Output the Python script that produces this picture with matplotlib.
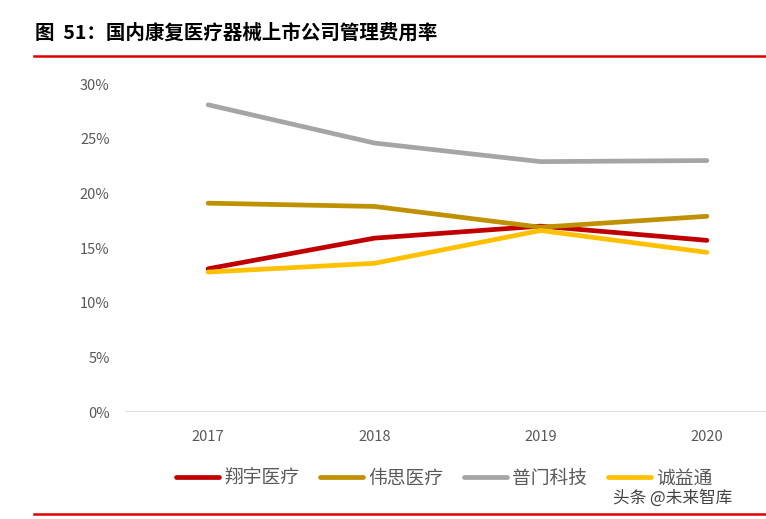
import matplotlib
matplotlib.use('Agg')
from matplotlib import pyplot as plt

plt.rcParams['font.family'] = ['Noto Sans CJK SC', 'DejaVu Sans']

years = ['2017', '2018', '2019', '2020']
xiangyu = [13.1, 15.9, 17.0, 15.7]
weisi = [19.1, 18.8, 16.9, 17.9]
pumen = [28.1, 24.6, 22.9, 23.0]
chengyitong = [12.8, 13.6, 16.6, 14.6]
names = ['翔宇医疗', '伟思医疗', '普门科技', '诚益通']
colors = ['#C00000', '#BF9000', '#A5A5A5', '#FFC000']
yticks = [0, 5, 10, 15, 20, 25, 30]

fig = plt.figure(figsize=(7.66, 5.19), dpi=100)
ax = fig.add_axes([125 / 766, 107 / 519, 665 / 766, 328 / 519])

x = range(len(years))
for vals, name, c in zip([xiangyu, weisi, pumen, chengyitong], names, colors):
    ax.plot(x, vals, color=c, linewidth=3.4, label=name, solid_capstyle='round')

ax.set_xlim(-0.5, 3.5)
ax.set_ylim(0, 30)
ax.set_yticks(yticks)
ax.set_yticklabels([f'{v}%' for v in yticks])
ax.set_xticks(list(x))
ax.set_xticklabels(years)
ax.axhline(0, color='#D9D9D9', linewidth=1.2, zorder=0)
for s in ax.spines.values():
    s.set_visible(False)
ax.tick_params(axis='y', length=0, pad=11, labelsize=10.5, labelcolor='#595959')
ax.tick_params(axis='x', length=0, pad=13, labelsize=10.5, labelcolor='#595959')

fig.legend(loc='center', bbox_to_anchor=(0.58, 1 - 478 / 519), ncol=4,
           frameon=False, fontsize=13.5, handlelength=2.3, handletextpad=0.27,
           columnspacing=1.12, labelcolor='#595959')

# title and red rules
fig.text(35 / 766, 1 - 33 / 519, '图  51：国内康复医疗器械上市公司管理费用率',
         fontsize=14, fontweight='bold', color='black', va='center', ha='left')
fig.add_artist(plt.Line2D([34 / 766, 1], [1 - 56 / 519, 1 - 56 / 519],
                          color='#E00000', linewidth=1.8))
fig.add_artist(plt.Line2D([34 / 766, 1], [1 - 514 / 519, 1 - 514 / 519],
                          color='#E00000', linewidth=1.8))

# watermark
fig.text(613 / 766, 1 - 498 / 519, '头条 @未来智库', fontsize=12, color='#222222',
         va='center', ha='left', alpha=0.85)

fig.savefig('out.png', dpi=100)
